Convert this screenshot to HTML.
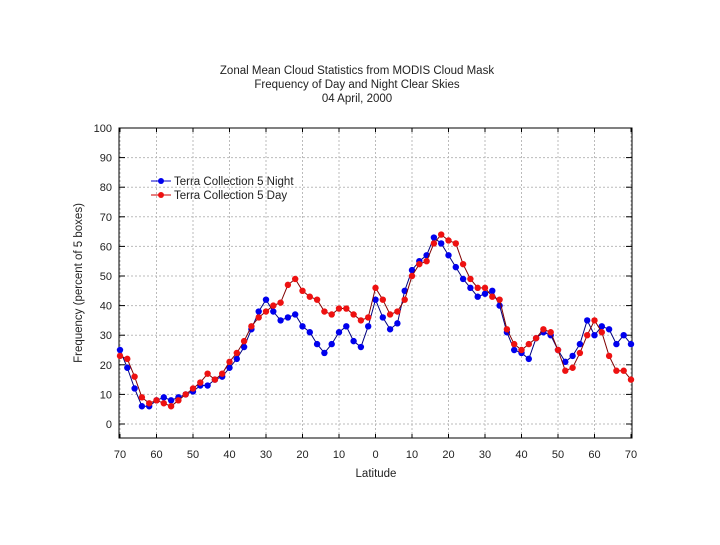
<!DOCTYPE html>
<html><head><meta charset="utf-8"><style>
body{margin:0;background:#fff;font-family:"Liberation Sans",sans-serif}
svg text{font-family:"Liberation Sans",sans-serif;fill:#222}
</style></head><body>
<svg id="chart" width="720" height="540">
<text x="357" y="74" text-anchor="middle" font-size="11.5">Zonal Mean Cloud Statistics from MODIS Cloud Mask</text>
<text x="357" y="88" text-anchor="middle" font-size="11.5">Frequency of Day and Night Clear Skies</text>
<text x="357" y="102" text-anchor="middle" font-size="11.5">04 April, 2000</text>
<g id="grid"></g><g id="axes"></g><g id="series"></g>
<text x="376" y="477" text-anchor="middle" font-size="11.5">Latitude</text>
<text transform="translate(82,283) rotate(-90)" text-anchor="middle" font-size="11.5">Frequency (percent of 5 boxes)</text>
<g>
<line x1="151" y1="181" x2="171" y2="181" stroke="#0000cc" stroke-width="1"/><circle cx="161" cy="181" r="3" fill="#0000ee"/>
<text x="174" y="185" font-size="11.5">Terra Collection 5 Night</text>
<line x1="151" y1="195" x2="171" y2="195" stroke="#cc0000" stroke-width="1"/><circle cx="161" cy="195" r="3" fill="#ee1111"/>
<text x="174" y="199" font-size="11.5">Terra Collection 5 Day</text>
</g>
</svg>
<script>
const latitudes=[-70,-68,-66,-64,-62,-60,-58,-56,-54,-52,-50,-48,-46,-44,-42,-40,-38,-36,-34,-32,-30,-28,-26,-24,-22,-20,-18,-16,-14,-12,-10,-8,-6,-4,-2,0,2,4,6,8,10,12,14,16,18,20,22,24,26,28,30,32,34,36,38,40,42,44,46,48,50,52,54,56,58,60,62,64,66,68,70];
const nightValues=[25,19,12,6,6,8,9,8,9,10,11,13,13,15,16,19,22,26,32,38,42,38,35,36,37,33,31,27,24,27,31,33,28,26,33,42,36,32,34,45,52,55,57,63,61,57,53,49,46,43,44,45,40,31,25,24,22,29,31,30,25,21,23,27,35,30,33,32,27,30,27];
const dayValues=[23,22,16,9,7,8,7,6,8,10,12,14,17,15,17,21,24,28,33,36,38,40,41,47,49,45,43,42,38,37,39,39,37,35,36,46,42,37,38,42,50,54,55,61,64,62,61,54,49,46,46,43,42,32,27,25,27,29,32,31,25,18,19,24,30,35,31,23,18,18,15];
const xTicks=[-70,-60,-50,-40,-30,-20,-10,0,10,20,30,40,50,60,70];
const xTickLabels=["70","60","50","40","30","20","10","0","10","20","30","40","50","60","70"];
const yTicks=[0,10,20,30,40,50,60,70,80,90,100];
const NS="http://www.w3.org/2000/svg";
const X0=120,X1=631,Y0=424,Ypx=2.96,TOP=128,BOT=438;
const xs=v=>X0+(v+70)*(X1-X0)/140;
const ys=v=>Y0-v*Ypx;
function mk(tag,attrs,parent){const e=document.createElementNS(NS,tag);for(const k in attrs)e.setAttribute(k,attrs[k]);parent.appendChild(e);return e;}
const grid=document.getElementById('grid'),axes=document.getElementById('axes'),ser=document.getElementById('series');
xTicks.forEach((t,i)=>{
  const g=mk('line',{x1:xs(t),x2:xs(t),y1:TOP,y2:BOT,stroke:'#bbb','stroke-dasharray':'2,2'},grid);
  
  
  const l=mk('text',{x:xs(t),y:BOT+20,'text-anchor':'middle','font-size':'11'},axes);
  l.textContent=xTickLabels[i];
  
  
  mk('line',{x1:xs(t),x2:xs(t),y1:TOP,y2:TOP+4,stroke:'#000'},axes);
  mk('line',{x1:xs(t),x2:xs(t),y1:BOT,y2:BOT-4,stroke:'#000'},axes);
});
yTicks.forEach(t=>{
  const g=mk('line',{x1:X0-1,x2:X1+1,y1:ys(t),y2:ys(t),stroke:'#bbb','stroke-dasharray':'2,2'},grid);
  
  
  const l=mk('text',{x:112,y:ys(t)+4,'text-anchor':'end','font-size':'11'},axes);
  l.textContent=String(t);
  
  
  mk('line',{x1:X0-1,x2:X0+5,y1:ys(t),y2:ys(t),stroke:'#000'},axes);
  mk('line',{x1:X1+1,x2:X1-5,y1:ys(t),y2:ys(t),stroke:'#000'},axes);
});
const frame=mk('rect',{x:X0-1,y:TOP,width:X1-X0+2,height:BOT-TOP,fill:'none',stroke:'#000'},axes);


function drawSeries(vals,lc,fc,name){
  const pl=mk('polyline',{points:vals.map((v,i)=>xs(latitudes[i])+','+ys(v)).join(' '),fill:'none',stroke:lc,'stroke-width':1},ser);
  
  
  vals.forEach((v,i)=>{
    const c=mk('circle',{cx:xs(latitudes[i]),cy:ys(v),r:3.2,fill:fc},ser);
    
    
  });
}
drawSeries(nightValues,'#000080','#0000ee','night');
drawSeries(dayValues,'#800000','#ee1111','day');
</script>
</body></html>
